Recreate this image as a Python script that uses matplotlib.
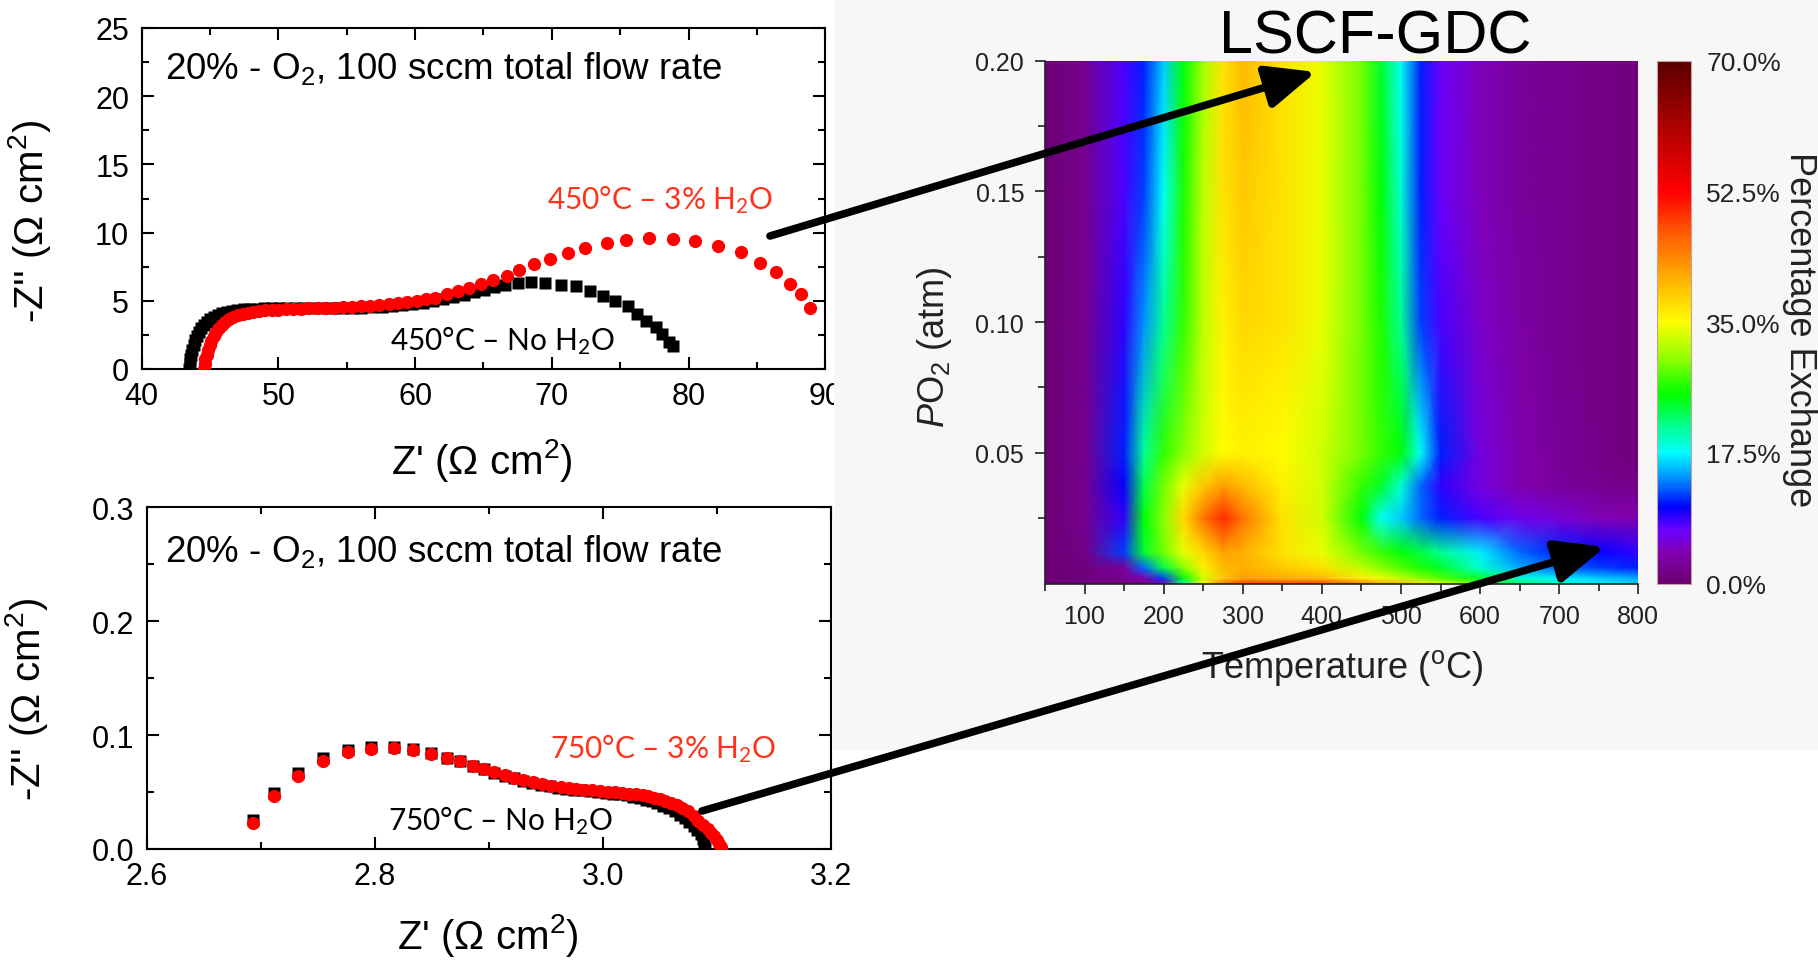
import numpy as np
import matplotlib
matplotlib.use('Agg')
import matplotlib.pyplot as plt
from matplotlib.colors import LinearSegmentedColormap
from matplotlib.patches import FancyArrowPatch, Rectangle, ArrowStyle
from matplotlib.ticker import MultipleLocator, FixedLocator, FormatStrFormatter

plt.rcParams['font.family'] = ['Liberation Sans', 'DejaVu Sans']
plt.rcParams['mathtext.fontset'] = 'custom'
plt.rcParams['mathtext.rm'] = 'Liberation Sans'
plt.rcParams['mathtext.it'] = 'Liberation Sans:italic'
plt.rcParams['mathtext.bf'] = 'Liberation Sans:bold'

# ---------------- impedance spectra, 450 C ----------------
z450_dry_re = [43.45, 43.5, 43.55, 43.62, 43.7, 43.8, 43.92, 44.05, 44.2, 44.37, 44.56, 44.77,
               45.0, 45.26, 45.55, 45.87, 46.22, 46.6, 47.0, 47.45, 47.92, 48.42, 48.95, 49.5,
               50.07, 50.66, 51.27, 51.9, 52.55, 53.22, 53.9, 54.6, 55.32, 56.05, 56.8, 57.55,
               58.3, 59.05, 59.8, 60.55, 61.3, 62.05, 62.8, 63.55, 64.3, 65.05, 65.8, 66.6,
               67.5, 68.49, 69.48, 70.67, 71.74, 72.77, 73.72, 74.64, 75.55, 76.22, 76.9,
               77.61, 78.08, 78.6, 78.88]
z450_dry_im = [0.0, 0.35, 0.7, 1.05, 1.4, 1.75, 2.1, 2.42, 2.72, 3.0, 3.25, 3.47,
               3.66, 3.83, 3.97, 4.09, 4.19, 4.27, 4.33, 4.38, 4.41, 4.43, 4.44, 4.45,
               4.45, 4.45, 4.45, 4.45, 4.45, 4.45, 4.46, 4.46, 4.47, 4.49, 4.52, 4.56,
               4.61, 4.68, 4.76, 4.86, 4.98, 5.12, 5.28, 5.45, 5.63, 5.82, 6.0, 6.15,
               6.3, 6.4, 6.3, 6.16, 6.06, 5.74, 5.33, 5.01, 4.6, 4.03, 3.54,
               3.06, 2.57, 1.96, 1.66]

z450_wet_re = [44.55, 44.6, 44.66, 44.74, 44.84, 44.96, 45.1, 45.26, 45.44, 45.64, 45.87, 46.12,
               46.4, 46.7, 47.03, 47.38, 47.76, 48.16, 48.58, 49.03, 49.5, 50.0, 50.52, 51.06,
               51.62, 52.2, 52.8, 53.42, 54.05, 54.7, 55.36, 56.03, 56.7, 57.38, 58.06, 58.74,
               59.42, 60.1, 60.77, 61.44, 62.35, 63.14, 63.93, 64.84, 65.72, 66.71, 67.62,
               68.69, 69.88, 71.19, 72.46, 74.04, 75.43, 77.1, 78.88, 80.5, 82.17, 83.83,
               85.22, 86.41, 87.44, 88.24, 88.9]
z450_wet_im = [0.0, 0.35, 0.7, 1.05, 1.4, 1.75, 2.08, 2.4, 2.7, 2.97, 3.22, 3.44,
               3.63, 3.79, 3.93, 4.04, 4.13, 4.2, 4.26, 4.3, 4.33, 4.36, 4.38, 4.4,
               4.42, 4.44, 4.46, 4.48, 4.5, 4.53, 4.56, 4.6, 4.64, 4.69, 4.75, 4.82,
               4.9, 4.99, 5.1, 5.23, 5.5, 5.72, 5.95, 6.2, 6.5, 6.85, 7.25,
               7.7, 8.1, 8.5, 8.9, 9.25, 9.45, 9.58, 9.5, 9.42, 9.05, 8.55,
               7.77, 7.09, 6.23, 5.5, 4.45]

# ---------------- impedance spectra, 750 C ----------------
z750_dry_re = [2.693, 2.712, 2.733, 2.755, 2.777, 2.797, 2.817, 2.834, 2.849, 2.863, 2.875, 2.886,
               2.896, 2.905, 2.914, 2.922, 2.930, 2.938, 2.946, 2.954, 2.961, 2.968, 2.975, 2.982,
               2.989, 2.996, 3.003, 3.009, 3.015, 3.021, 3.027, 3.033, 3.038, 3.043, 3.048, 3.053,
               3.058, 3.063, 3.068, 3.072, 3.076, 3.080, 3.083, 3.086, 3.088, 3.089, 3.090]
z750_dry_im = [0.0255, 0.0495, 0.0665, 0.0795, 0.0870, 0.0895, 0.0895, 0.0878, 0.0840, 0.0803, 0.0770, 0.0730,
               0.0698, 0.0668, 0.0644, 0.0620, 0.0597, 0.0578, 0.0562, 0.0549, 0.0538, 0.0529, 0.0521, 0.0514,
               0.0507, 0.0501, 0.0494, 0.0487, 0.0479, 0.0470, 0.0460, 0.0448, 0.0434, 0.0418, 0.0400, 0.0380,
               0.0357, 0.0331, 0.0302, 0.0272, 0.0240, 0.0205, 0.0168, 0.0128, 0.0088, 0.0048, 0.0010]

z750_wet_re = [2.693, 2.712, 2.733, 2.755, 2.777, 2.797, 2.817, 2.834, 2.849, 2.863, 2.875, 2.886,
               2.896, 2.905, 2.914, 2.922, 2.930, 2.939, 2.947, 2.955, 2.963, 2.970, 2.977, 2.984,
               2.991, 2.998, 3.005, 3.011, 3.017, 3.023, 3.029, 3.035, 3.040, 3.045, 3.050, 3.055,
               3.060, 3.065, 3.070, 3.075, 3.080, 3.084, 3.088, 3.092, 3.095, 3.098, 3.100, 3.102, 3.104]
z750_wet_im = [0.0228, 0.0468, 0.0638, 0.0770, 0.0849, 0.0878, 0.0884, 0.0869, 0.0834, 0.0799, 0.0770, 0.0731,
               0.0702, 0.0673, 0.0650, 0.0626, 0.0603, 0.0585, 0.0570, 0.0557, 0.0546, 0.0537, 0.0529, 0.0522,
               0.0516, 0.0510, 0.0504, 0.0498, 0.0492, 0.0486, 0.0479, 0.0471, 0.0462, 0.0452, 0.0440, 0.0425,
               0.0408, 0.0388, 0.0364, 0.0337, 0.0290, 0.0250, 0.0210, 0.0176, 0.0140, 0.0110, 0.0080, 0.0045, 0.0015]

# ---------------- oxygen exchange map (LSCF-GDC), % ----------------
temps = [50, 100, 150, 175, 200, 225, 250, 275, 300, 350, 400, 450, 475, 500, 525, 550, 600, 650, 700, 750, 800]
po2 = [0.0, 0.002, 0.006, 0.012, 0.025, 0.0375, 0.05, 0.1, 0.15, 0.2]
exch_p000 = [0.5, 1, 1.5, 2, 4, 20, 36, 45, 48, 48, 48, 45, 42, 40, 37, 34, 28, 22, 19, 17, 16]
exch_p002 = [0.5, 1, 2, 4, 12, 25, 33, 39, 42, 41, 40, 36, 34, 32, 30, 28, 24, 19, 17, 16, 15]
exch_p006 = [0.5, 1, 3, 13, 23, 30, 36, 40, 41, 39, 37, 32, 30, 28, 26, 24, 19, 15, 13, 12, 11]
exch_p012 = [0.5, 1.5, 12, 24, 29, 34, 38, 42, 41, 37, 34, 29, 27, 25, 23, 21, 17, 13, 11, 10, 9]
exch_p025 = [0.5, 2, 9, 25, 30, 38, 45, 50, 45, 37, 33, 25, 18, 16, 13, 11, 8, 6.5, 5.5, 4.5, 4]
exch_p037 = [0.5, 2, 10, 23, 29, 34, 39, 42, 40, 36, 33, 27, 24, 19, 13, 9, 6, 4, 3, 2, 1.5]
exch_p050 = [0.5, 2, 11, 21, 27, 30, 33, 35, 36, 35, 33, 29, 27, 25, 18, 11, 6, 4, 2.5, 1.5, 1]
exch_p100 = [0.5, 2, 9, 14, 21, 27, 32, 36, 38, 37, 34, 29, 26, 21, 12, 8, 5, 3.5, 2, 1.5, 1]
exch_p150 = [0.5, 2, 8, 12, 18, 26, 32, 37, 39, 37, 34, 29, 25, 19, 11, 7, 4.5, 3, 2, 1.5, 1]
exch_p200 = [0.5, 2, 8, 11, 16, 25, 31, 37, 40, 37, 34, 29, 24, 18, 11, 7, 4.5, 3, 2, 1.5, 1]
cbar_ticks = [0.0, 17.5, 35.0, 52.5, 70.0]

# ---------------- figure ----------------
W, H = 1818, 962
fig = plt.figure(figsize=(W / 100, H / 100), dpi=100)
fig.patch.set_facecolor('white')


def rect(l, t, r, b):
    return [l / W, 1 - b / H, (r - l) / W, (b - t) / H]


def px(x, y):
    return (x / W, 1 - y / H)


def style_eis(ax):
    for s in ax.spines.values():
        s.set_linewidth(1.5)
    ax.tick_params(which='both', direction='in', top=True, right=True, width=1.5,
                   labelsize=22, pad=9)
    ax.tick_params(which='major', length=8.5)
    ax.tick_params(which='minor', length=5)


RED = '#ff0000'
LBL_RED = '#ff3319'
hum = ['Lato', 'DejaVu Sans']

# top panel: 450 C
ax1 = fig.add_axes(rect(141.7, 29, 825.3, 370), zorder=0)
ax1.plot(z450_dry_re, z450_dry_im, 's', color='black', ms=8.5, mec='none', zorder=3)
ax1.plot(z450_wet_re, z450_wet_im, 'o', color=RED, ms=9.5, mec='none', zorder=4)
ax1.set_xlim(40, 90)
ax1.set_ylim(0, 25)
ax1.xaxis.set_major_locator(MultipleLocator(10))
ax1.xaxis.set_minor_locator(MultipleLocator(5))
ax1.yaxis.set_major_locator(MultipleLocator(5))
ax1.yaxis.set_minor_locator(MultipleLocator(2.5))
style_eis(ax1)

# bottom panel: 750 C
ax2 = fig.add_axes(rect(146.7, 508.3, 830.7, 850), zorder=0)
ax2.plot(z750_dry_re, z750_dry_im, 's', color='black', ms=8.5, mec='none', zorder=3)
ax2.plot(z750_wet_re, z750_wet_im, 'o', color=RED, ms=9.5, mec='none', zorder=4)
ax2.set_xlim(2.6, 3.2)
ax2.set_ylim(0, 0.3)
ax2.xaxis.set_major_locator(MultipleLocator(0.2))
ax2.xaxis.set_minor_locator(MultipleLocator(0.1))
ax2.yaxis.set_major_locator(MultipleLocator(0.1))
ax2.yaxis.set_minor_locator(MultipleLocator(0.05))
ax2.xaxis.set_major_formatter(FormatStrFormatter('%.1f'))
ax2.yaxis.set_major_formatter(FormatStrFormatter('%.1f'))
style_eis(ax2)

# axis titles and annotations of the impedance panels
fig.text(*px(482, 474), "Z' (Ω cm$^2$)", fontsize=29, ha='center', va='baseline')
fig.text(*px(30, 222), "-Z'' (Ω cm$^2$)", fontsize=29, rotation=90, ha='center', va='center')
fig.text(*px(488, 949), "Z' (Ω cm$^2$)", fontsize=29, ha='center', va='baseline')
fig.text(*px(27, 700), "-Z'' (Ω cm$^2$)", fontsize=29, rotation=90, ha='center', va='center')

cond = "20% - O$_2$, 100 sccm total flow rate"
fig.text(*px(165, 79), cond, fontsize=26.5, ha='left', va='baseline')
fig.text(*px(165, 562), cond, fontsize=26.5, ha='left', va='baseline')

fig.text(*px(547, 209), r"450°C – 3% H$_\mathregular{2}$O", family=hum, fontsize=21.5,
         color=LBL_RED, ha='left', va='baseline')
fig.text(*px(390, 350), r"450°C – No H$_\mathregular{2}$O", family=hum, fontsize=21.5,
         color='black', ha='left', va='baseline')
fig.text(*px(550, 758), r"750°C – 3% H$_\mathregular{2}$O", family=hum, fontsize=21.5,
         color=LBL_RED, ha='left', va='baseline')
fig.text(*px(387.5, 830), r"750°C – No H$_\mathregular{2}$O", family=hum, fontsize=21.5,
         color='black', ha='left', va='baseline')

# light backdrop of the exchange-map panel
fig.add_artist(Rectangle((834 / W, 1 - 751 / H), 1 - 834 / W, 751 / H,
                         transform=fig.transFigure, facecolor='#f7f7f7',
                         edgecolor='none', zorder=1))

# exchange map
cmap = LinearSegmentedColormap.from_list('origin_rainbow', [
    (0.00, '#6b0070'), (0.06, '#8200b4'), (0.10, '#6a00ff'), (0.145, '#0000ff'),
    (0.20, '#0090ff'), (0.25, '#00ffff'), (0.30, '#00ff90'), (0.36, '#00ff00'),
    (0.43, '#90ff00'), (0.50, '#ffff00'), (0.60, '#ffa000'), (0.68, '#ff5000'),
    (0.75, '#ff0000'), (0.86, '#b80000'), (1.00, '#5a0000')])

exchange = np.array([exch_p000, exch_p002, exch_p006, exch_p012, exch_p025,
                     exch_p037, exch_p050, exch_p100, exch_p150, exch_p200])
T, P = np.meshgrid(temps, po2)

axh = fig.add_axes(rect(1045, 61.7, 1638.3, 584.5), zorder=2)
mesh = axh.pcolormesh(T, P, exchange, shading='gouraud', cmap=cmap, vmin=0, vmax=70)
axh.set_xlim(50, 800)
axh.set_ylim(0, 0.2)
axh.xaxis.set_major_locator(FixedLocator([100, 200, 300, 400, 500, 600, 700, 800]))
axh.xaxis.set_minor_locator(FixedLocator([50, 150, 250, 350, 450, 550, 650, 750]))
axh.yaxis.set_major_locator(FixedLocator([0.05, 0.10, 0.15, 0.20]))
axh.yaxis.set_minor_locator(FixedLocator([0.025, 0.075, 0.125, 0.175]))
axh.yaxis.set_major_formatter(FormatStrFormatter('%.2f'))
for side in ('top', 'right'):
    axh.spines[side].set_visible(False)
for side in ('left', 'bottom'):
    axh.spines[side].set_linewidth(1.2)
    axh.spines[side].set_color('#222222')
axh.tick_params(which='both', direction='out', width=1.2, color='#222222',
                labelsize=18, labelcolor='#222222')
axh.tick_params(which='major', length=7, pad=8)
axh.tick_params(which='minor', length=5)

cax = fig.add_axes(rect(1656.7, 61.7, 1691, 584.5), zorder=2)
cb = fig.colorbar(mesh, cax=cax, ticks=cbar_ticks)
cb.ax.set_yticklabels([f'{v:.1f}%' for v in cbar_ticks])
cb.ax.tick_params(length=0, labelsize=19, pad=11, labelcolor='#222222')
cb.outline.set_edgecolor('#c8a0a0')
cb.outline.set_linewidth(0.8)

fig.text(*px(1375, 53), 'LSCF-GDC', fontsize=44, ha='center', va='baseline', zorder=4)
fig.text(*px(1342, 668), r'Temperature ($^\mathregular{o}$C)', fontsize=26,
         color='#222222', ha='center', va='center', zorder=4)
fig.text(*px(934, 347), r'$P$O$_\mathregular{2}$ (atm)', fontsize=26, rotation=90,
         color='#222222', ha='center', va='center', zorder=4)
fig.text(*px(1800, 330), 'Percentage Exchange', fontsize=26, rotation=270,
         color='#222222', ha='center', va='center', zorder=4)

# arrows linking each spectrum to its region of the map
head = ArrowStyle('-|>', head_length=30, head_width=13)
for start, end in [((770, 237), (1316, 73)), ((702, 812), (1605, 548))]:
    fig.add_artist(FancyArrowPatch(px(*start), px(*end), transform=fig.transFigure,
                                   arrowstyle=head, mutation_scale=1, lw=5.5,
                                   color='black', shrinkA=0, shrinkB=0, zorder=6))

fig.savefig('out.png', dpi=100, facecolor='white')
